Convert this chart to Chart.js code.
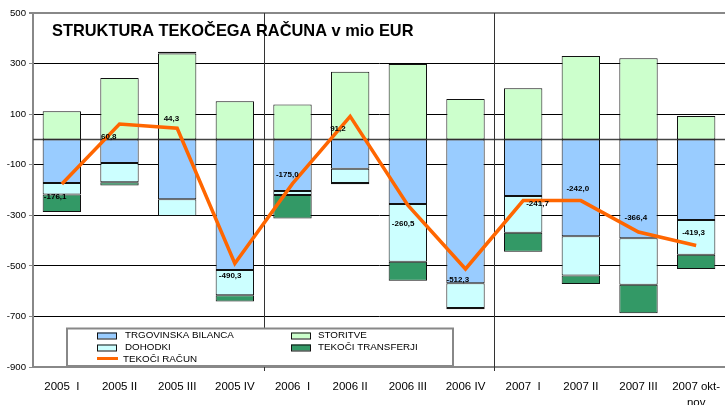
<!DOCTYPE html>
<html>
<head>
<meta charset="utf-8">
<script src="https://cdn.jsdelivr.net/npm/chart.js@4.4.1/dist/chart.umd.min.js"></script>
<style>
  html, body { margin: 0; padding: 0; background: #fff; }
  #wrap { width: 725px; height: 405px; }
</style>
</head>
<body>
<div id="wrap"><canvas id="chart"></canvas></div>
<script>
// quarters on the x axis
const quarters = ['2005  I', '2005 II', '2005 III', '2005 IV', '2006  I', '2006 II', '2006 III', '2006 IV',
  '2007  I', '2007 II', '2007 III', ['2007 okt-', 'nov']];

// components, mio EUR
const trgovinskaBilanca = [-172, -93, -237, -516, -204, -116, -255, -569, -224, -383, -391, -319];
const storitve = [111, 243, 340, 151, 138, 268, 298, 160, 202, 330, 321, 93];
const dohodki = [-46, -76, -66, -100, -16, -56, -229, -98, -145, -155, -184, -137];
const tekociTransferji = [-69, -13, 7, -25, -93, -5, -75, -5, -75, -34, -112, -56];

// current account balance (labelled values)
const tekociRacun = [-176.1, 60.8, 44.3, -490.3, -175.0, 91.2, -260.5, -512.3, -241.7, -242.0, -366.4, -419.3];

const yTicks = [-900, -700, -500, -300, -100, 100, 300, 500];

const FONT = "'Liberation Sans', Arial, sans-serif";
const fmt = (v) => v.toFixed(1).replace('.', ',');

// where each value label sits relative to its point on the line
const labelNudge = [[-18, 13], [-18.5, 13], [-13.5, -9], [-16, 12], [-16.6, -8.5], [-20, 12],
  [-16, 18], [-19, 11], [3, 3.5], [-14.4, -12], [-14, -14.4], [-14, -12.7]];

const decorations = {
  id: 'decorations',
  beforeDatasetsDraw(chart) {
    const { ctx, chartArea, scales: { x, y } } = chart;
    ctx.save();
    // zero line
    const y0 = y.getPixelForValue(0);
    ctx.strokeStyle = '#444';
    ctx.lineWidth = 1.5;
    ctx.beginPath();
    ctx.moveTo(chartArea.left, y0);
    ctx.lineTo(chartArea.right, y0);
    ctx.stroke();
    // year separators
    ctx.strokeStyle = '#333';
    ctx.lineWidth = 1;
    [3, 7].forEach((i) => {
      const px = Math.round((x.getPixelForValue(i) + x.getPixelForValue(i + 1)) / 2) + 0.5;
      ctx.beginPath();
      ctx.moveTo(px, chartArea.top);
      ctx.lineTo(px, chartArea.bottom + 4);
      ctx.stroke();
    });
    ctx.restore();
  },
  afterDatasetsDraw(chart) {
    const { ctx } = chart;
    ctx.save();

    // value labels on the line
    const meta = chart.getDatasetMeta(4);
    ctx.font = 'bold 8px ' + FONT;
    ctx.fillStyle = '#000';
    ctx.textBaseline = 'middle';
    ctx.textAlign = 'left';
    meta.data.forEach((pt, i) => {
      const [dx, dy] = labelNudge[i];
      ctx.fillText(fmt(tekociRacun[i]), pt.x + dx, pt.y + dy);
    });

    // legend
    ctx.fillStyle = '#fff';
    ctx.fillRect(67, 328.5, 386, 37.5);
    ctx.strokeStyle = '#888';
    ctx.lineWidth = 2;
    ctx.strokeRect(67, 328.5, 386, 37.5);

    const ds = chart.data.datasets;
    const swatch = (d, sx, sy, tx) => {
      ctx.fillStyle = d.backgroundColor;
      ctx.fillRect(sx, sy - 3, 20, 6);
      ctx.strokeStyle = '#111';
      ctx.lineWidth = 1;
      ctx.strokeRect(sx + 0.5, sy - 3 + 0.5, 19, 6);
      ctx.fillStyle = '#000';
      ctx.fillText(d.label, tx, sy);
    };
    ctx.font = '9.8px ' + FONT;
    swatch(ds[0], 97, 335.5, 125);
    swatch(ds[2], 97, 347.5, 125);
    swatch(ds[1], 291, 335.5, 318);
    swatch(ds[3], 291, 347.5, 318);
    ctx.strokeStyle = ds[4].borderColor;
    ctx.lineWidth = 3;
    ctx.beginPath();
    ctx.moveTo(97, 358.5);
    ctx.lineTo(118, 358.5);
    ctx.stroke();
    ctx.fillStyle = '#000';
    ctx.fillText(ds[4].label, 123, 359);

    // title
    ctx.font = 'bold 16.4px ' + FONT;
    ctx.fillText('STRUKTURA TEKOČEGA RAČUNA v mio EUR', 52, 31);
    ctx.restore();
  }
};

const barBase = {
  borderColor: '#111',
  borderWidth: 1,
  borderSkipped: false,
  barPercentage: 0.665,
  categoryPercentage: 1,
  order: 1
};

new Chart(document.getElementById('chart'), {
  type: 'bar',
  data: {
    labels: quarters,
    datasets: [
      { ...barBase, label: 'TRGOVINSKA BILANCA', data: trgovinskaBilanca, backgroundColor: '#99CCFF' },
      { ...barBase, label: 'STORITVE', data: storitve, backgroundColor: '#CCFFCC' },
      { ...barBase, label: 'DOHODKI', data: dohodki, backgroundColor: '#CCFFFF' },
      { ...barBase, label: 'TEKOČI TRANSFERJI', data: tekociTransferji, backgroundColor: '#339966' },
      {
        type: 'line',
        label: 'TEKOČI RAČUN',
        data: tekociRacun,
        borderColor: '#FF6600',
        backgroundColor: '#FF6600',
        borderWidth: 3.5,
        pointRadius: 0,
        tension: 0,
        order: 0
      }
    ]
  },
  options: {
    responsive: true,
    maintainAspectRatio: false,
    animation: false,
    layout: { padding: { top: 13, right: 0, left: 0, bottom: 0 } },
    plugins: {
      legend: { display: false },
      tooltip: { enabled: false }
    },
    scales: {
      x: {
        stacked: true,
        grid: { drawOnChartArea: false, tickLength: 10, tickColor: 'rgba(0,0,0,0)' },
        border: { color: '#888', width: 2 },
        ticks: {
          color: '#000',
          padding: 2,
          maxRotation: 0,
          autoSkip: false,
          font: { family: FONT, size: 11.5, lineHeight: 1.4 }
        },
        afterFit: (s) => { s.height = 38; }
      },
      y: {
        stacked: true,
        min: yTicks[0],
        max: yTicks[yTicks.length - 1],
        afterBuildTicks: (s) => { s.ticks = yTicks.map((v) => ({ value: v })); },
        grid: {
          color: (c) => (c.tick && (c.tick.value === 500 || c.tick.value === -900)) ? '#888' : '#000',
          lineWidth: (c) => (c.tick && c.tick.value === 500) ? 2 : 1,
          tickColor: '#888',
          tickLength: 4
        },
        border: { color: '#888', width: 2 },
        ticks: {
          color: '#000',
          padding: 3,
          font: { family: FONT, size: 9.6 }
        },
        afterFit: (s) => { s.width = 33; }
      }
    }
  },
  plugins: [decorations]
});
</script>
</body>
</html>
